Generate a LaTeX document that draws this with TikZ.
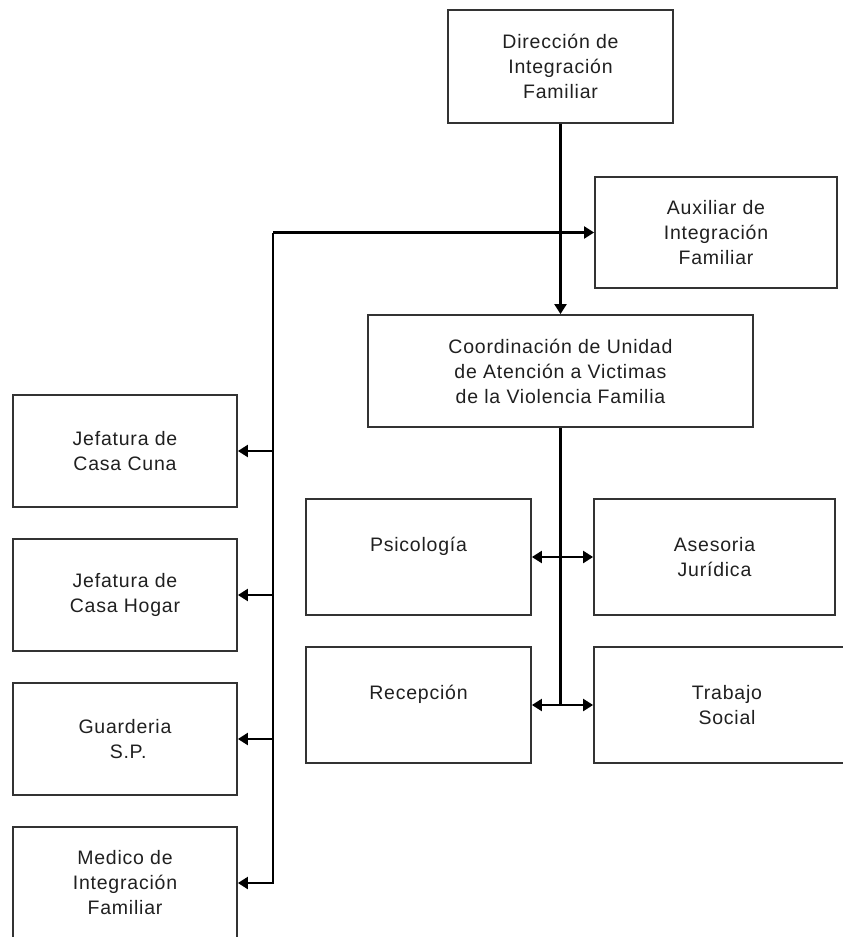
\documentclass[tikz,border=0pt]{standalone}
\usepackage{fontspec}
\setmainfont{Liberation Sans}[LetterSpace=4]
\usetikzlibrary{arrows.meta}
\definecolor{boxgray}{HTML}{333333}
\definecolor{textgray}{HTML}{202020}
\begin{document}
\begin{tikzpicture}[x=1pt,y=-1pt,
  box/.style={draw=boxgray,line width=1.8pt,fill=white,inner sep=0pt,align=center,
    font=\fontsize{19.5}{25}\selectfont,text=textgray},
  conn/.style={line width=2.2pt,draw=black},
  heavy/.style={line width=3.2pt,draw=black},
  tip/.style={-{Triangle[length=10pt,width=12pt]}},
  tips/.style={{Triangle[length=10pt,width=12pt]}-{Triangle[length=10pt,width=12pt]}}]
\useasboundingbox (0,0) rectangle (843,937);
\clip (0,0) rectangle (843,937);
\fill[white] (0,0) rectangle (843,937);
% boxes
\node[box,minimum width=225pt,minimum height=113pt] (dir) at (560.5,66.5) {Dirección de\\Integración\\Familiar};
\node[box,minimum width=242pt,minimum height=111pt] (aux) at (716,232.5) {Auxiliar de\\Integración\\Familiar};
\node[box,minimum width=385pt,minimum height=112pt] (coord) at (560.5,371) {Coordinación de Unidad\\de Atención a Victimas\\de la Violencia Familia};
\node[box,minimum width=224pt,minimum height=112pt] (cuna) at (125,451) {Jefatura de\\Casa Cuna};
\node[box,minimum width=224pt,minimum height=112pt] (hogar) at (125,595) {Jefatura de\\Casa Hogar};
\node[box,minimum width=224pt,minimum height=112pt] (guard) at (125,739) {Guarderia\\\ S.P.};
\node[box,minimum width=224pt,minimum height=112pt] (medico) at (125,883) {Medico de\\Integración\\Familiar};
\node[box,minimum width=225pt,minimum height=116pt] (psic) at (418.5,557) {Psicología\\\mbox{}};
\node[box,minimum width=241pt,minimum height=116pt] (ases) at (714.5,557) {Asesoria\\Jurídica};
\node[box,minimum width=225pt,minimum height=116pt] (recep) at (418.5,705) {Recepción\\\mbox{}};
\node[box,minimum width=266pt,minimum height=116pt] (trab) at (727,705) {Trabajo\\Social};
% top connectors
\coordinate (j1) at (dir.south |- aux.west);
\coordinate (bl) at (273,232.5);
\draw[heavy] (dir.south) -- (j1);
\draw[conn,tip] (j1) -- (coord.north);
\draw[conn,tip] (bl) -- (aux.west);
\draw[conn,tip] (bl) |- (medico.east);
\draw[conn,tip] (bl |- cuna.east) -- (cuna.east);
\draw[conn,tip] (bl |- hogar.east) -- (hogar.east);
\draw[conn,tip] (bl |- guard.east) -- (guard.east);
% lower connectors
\coordinate (j2) at (coord.south |- psic.east);
\coordinate (j3) at (coord.south |- recep.east);
\draw[heavy] (coord.south) -- (j2);
\draw[conn] (j2) -- (j3);
\draw[conn,tips] (psic.east) -- (ases.west);
\draw[conn,tips] (recep.east) -- (trab.west);
\end{tikzpicture}
\end{document}
